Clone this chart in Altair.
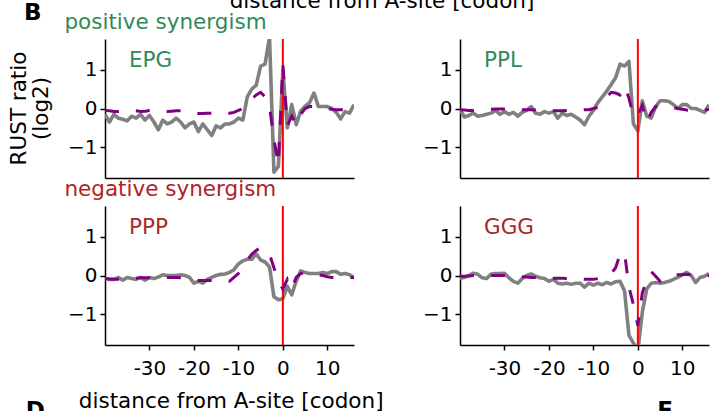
import altair as alt
import pandas as pd

# ---------------- data ----------------
positions = list(range(-40, 17))

epg_observed = [-0.15, -0.35, -0.15, -0.25, -0.28, -0.32, -0.2, -0.25, -0.15, -0.3,
                -0.18, -0.35, -0.55, -0.3, -0.4, -0.35, -0.25, -0.35, -0.5, -0.4,
                -0.35, -0.6, -0.4, -0.55, -0.7, -0.45, -0.5, -0.4, -0.4, -0.35,
                -0.25, -0.3, 0.3, 0.5, 0.6, 1.1, 1.15, 1.85, -1.65, -1.5,
                1.0, -0.5, 0.1, -0.42, -0.07, 0.06, 0.15, 0.4, 0.05, 0.05,
                0.05, 0.0, -0.1, -0.27, -0.08, -0.12, 0.1]
epg_expected = [-0.05, -0.06, -0.08, -0.08, -0.07, -0.06, -0.05, -0.06, -0.08, -0.07,
                -0.05, -0.05, -0.06, -0.08, -0.08, -0.07, -0.06, -0.06, -0.08, -0.1,
                -0.12, -0.13, -0.13, -0.12, -0.12, -0.13, -0.13, -0.12,
                -0.12, -0.1, -0.05, 0.0, 0.1, 0.25, 0.35, 0.42, 0.3, 0.05,
                -0.8, -1.45, 1.15, -0.45, -0.2, -0.42, -0.15, 0.0, 0.05, 0.05,
                0.03, 0.02, 0.0, -0.02, -0.03, -0.03, -0.03, -0.02, -0.02]

ppl_observed = [-0.03, -0.22, -0.18, -0.12, -0.2, -0.18, -0.15, -0.12, -0.05, -0.15,
                -0.08, -0.15, -0.1, -0.2, -0.1, -0.05, 0.05, -0.12, -0.15, -0.08,
                -0.12, -0.08, -0.25, -0.12, -0.18, -0.15, -0.22, -0.3, -0.42, -0.2,
                -0.05, 0.15, 0.3, 0.45, 0.62, 0.8, 1.15, 1.1, 1.22, -0.4,
                -0.58, 0.2, -0.2, -0.25, 0.05, 0.2, 0.2, 0.18, 0.1, 0.0,
                0.1, 0.1, 0.0, 0.0, -0.05, -0.1, 0.1]
ppl_expected = [-0.03, -0.04, -0.05, -0.05, -0.04, -0.03, -0.03, -0.02, -0.01, -0.01,
                -0.01, -0.01, -0.01, -0.02, -0.03, -0.03, -0.03, -0.04, -0.05, -0.05,
                -0.06, -0.06, -0.06, -0.06, -0.05, -0.05, -0.04, -0.04, -0.03,
                -0.03, 0.0, 0.03, 0.12, 0.3, 0.42, 0.4, 0.35, 0.58, 0.27,
                -0.2, -0.18, 0.08, -0.35, -0.1, 0.05, 0.08, 0.06, 0.05, 0.02,
                0.0, -0.02, -0.04, -0.05, -0.05, -0.05, -0.05, -0.02]

ppp_observed = [-0.08, -0.1, -0.1, -0.05, -0.12, -0.05, -0.08, -0.1, -0.05, -0.12,
                -0.05, -0.08, -0.04, 0.02, 0.0, 0.0, 0.0, 0.02, 0.0, -0.05,
                -0.2, -0.15, -0.2, -0.1, -0.05, 0.0, 0.03, 0.04, 0.08, 0.15,
                0.3, 0.38, 0.42, 0.42, 0.56, 0.4, 0.35, 0.22, -0.55, -0.63,
                -0.6, -0.28, -0.5, -0.15, 0.12, 0.08, 0.05, 0.05, 0.05, 0.08,
                0.05, 0.1, 0.1, 0.03, 0.05, 0.02, -0.05]
ppp_expected = [-0.08, -0.09, -0.1, -0.1, -0.09, -0.08, -0.08, -0.07, -0.06, -0.06,
                -0.06, -0.05, -0.05, -0.05, -0.05, -0.05, -0.05, -0.06, -0.08, -0.1,
                -0.12, -0.13, -0.13, -0.13, -0.13, -0.13,
                -0.13, -0.15, -0.15, -0.05, 0.05, 0.2, 0.4, 0.55, 0.65, 0.72,
                0.6, 0.55, 0.2, -0.15, -0.35, -0.1, -0.35, -0.05, 0.05, 0.08,
                0.05, 0.05, 0.02, 0.0, -0.03, -0.05, -0.06, -0.06, -0.05, -0.05, -0.05]

ggg_observed = [-0.07, -0.05, 0.0, 0.06, 0.03, -0.06, -0.08, 0.04, 0.05, 0.05,
                0.06, -0.06, -0.15, -0.2, -0.08, 0.0, 0.04, -0.02, -0.06, -0.08,
                -0.15, -0.1, -0.2, -0.22, -0.2, -0.23, -0.2, -0.2, -0.3, -0.2,
                -0.25, -0.2, -0.24, -0.18, -0.22, -0.16, -0.15, -0.4, -1.55, -1.75,
                -1.95, -0.95, -0.35, -0.2, -0.18, -0.2, -0.18, -0.15, -0.1, -0.05,
                0.02, 0.08, 0.0, -0.18, -0.05, -0.02, 0.05]
ggg_expected = [-0.02, -0.02, -0.01, 0.0, 0.0, 0.0, 0.0, 0.0, 0.0, 0.0,
                0.0, 0.0, -0.01, -0.02, -0.03, -0.04, -0.05, -0.05, -0.05, -0.06,
                -0.06, -0.07, -0.07, -0.07, -0.08, -0.08, -0.08, -0.09, -0.1, -0.1,
                -0.1, -0.08, -0.05, -0.02, 0.05, 0.2, 0.55, 0.6, -0.3, -0.75,
                -1.3, -0.45, -0.12, 0.1, -0.02, -0.15, -0.1, -0.03, 0.02, 0.02,
                0.02, 0.03, 0.02, 0.0, 0.0, 0.0, 0.0]

panel_names = ["EPG", "PPL", "PPP", "GGG"]
group_titles = ["positive synergism", "negative synergism"]
x_title = "distance from A-site [codon]"
y_title = ["RUST ratio", "(log2)"]
x_ticks = [-30, -20, -10, 0, 10]
y_ticks = [-1, 0, 1]
a_site = [0]

# ---------------- style ----------------
FONT = "DejaVu Sans"
GREEN = "#2e8b57"
RED = "#b22222"
BROWN = "#a52a2a"
W, H = 249, 139


def one_row():
    return pd.DataFrame({"k": [0]})


def text_layer(txt, x, y, size=21.5, color="black", weight="normal",
               align="left", angle=None, baseline="alphabetic"):
    kw = dict(fontSize=size, color=color, fontWeight=weight, align=align,
              baseline=baseline, font=FONT)
    if angle is not None:
        kw["angle"] = angle
    return alt.Chart(one_row()).mark_text(**kw).encode(
        x=alt.value(x), y=alt.value(y), text=alt.value(txt))


def anchor(x, y):
    return alt.Chart(one_row()).mark_rule(opacity=0, strokeWidth=0).encode(
        x=alt.value(x), x2=alt.value(x), y=alt.value(y), y2=alt.value(y))


def panel(observed, expected, label, label_color, show_x, extras):
    df = pd.DataFrame({"pos": positions, "obs": observed, "exp": expected})
    xs = alt.Scale(domain=[-40, 16], nice=False, zero=False)
    ys = alt.Scale(domain=[-1.8, 1.8], nice=False, zero=False)
    if show_x:
        xa = alt.Axis(values=x_ticks, labelExpr="datum.value + ''", title=None,
                      grid=False, labelPadding=8, tickSize=5)
    else:
        xa = alt.Axis(values=x_ticks, labels=False, ticks=False, title=None, grid=False)
    ya = alt.Axis(values=y_ticks, title=None, grid=False, tickSize=5, labelPadding=3,
                  labelExpr="datum.value < 0 ? '\u2212' + abs(datum.value) : '' + datum.value")
    base = alt.Chart(df)
    obs_line = base.mark_line(color="#808080", strokeWidth=3.6, clip=True,
                              strokeJoin="round").encode(
        x=alt.X("pos:Q", scale=xs, axis=xa),
        y=alt.Y("obs:Q", scale=ys, axis=ya))
    exp_line = base.mark_line(color="#800080", strokeWidth=3, strokeDash=[14, 17],
                              clip=True).encode(
        x=alt.X("pos:Q", scale=xs, axis=xa),
        y=alt.Y("exp:Q", scale=ys, axis=ya))
    rule = alt.Chart(pd.DataFrame({"pos": a_site})).mark_rule(
        color="red", strokeWidth=2).encode(x=alt.X("pos:Q", scale=xs, axis=xa))
    lab = text_layer(label, 24, 28.3, color=label_color)
    return alt.layer(obs_line, rule, exp_line, lab, *extras).properties(width=W, height=H)


tl = panel(epg_observed, epg_expected, panel_names[0], GREEN, False, [
    anchor(-105, -59),
    text_layer("B", -81, -19, size=23, weight="bold"),
    text_layer(x_title, 277, -31, align="center"),
    text_layer(group_titles[0], -40.6, -9.7, color=GREEN),
    text_layer(y_title[0], -79, 69.5, angle=270, align="center"),
    text_layer(y_title[1], -57.5, 69.5, angle=270, align="center"),
])
tr = panel(ppl_observed, ppl_expected, panel_names[1], GREEN, False, [])
bl = panel(ppp_observed, ppp_expected, panel_names[2], BROWN, True, [
    text_layer(group_titles[1], -40.6, -10, color=RED),
    text_layer(x_title, 126.2, 201.6, align="center"),
    text_layer("D", -79.3, 212, size=23, weight="bold"),
])
br = panel(ggg_observed, ggg_expected, panel_names[3], BROWN, True, [
    text_layer("E", 197.3, 212, size=23, weight="bold"),
    anchor(270, 234),
])

chart = alt.concat(tl, tr, bl, br, columns=2,
                   spacing={"row": 28, "column": 106}, bounds="flush").properties(
    padding={"left": 0, "top": -20, "right": -19, "bottom": -29},
    autosize=alt.AutoSizeParams(type="pad"),
    background="white",
).configure_view(stroke=None).configure_axis(
    domainColor="black", domainWidth=1.5, tickColor="black", tickWidth=1.5,
    labelColor="black", labelFont=FONT, labelFontSize=20, grid=False,
).configure_text(font=FONT)

chart.save("out.html", embed_options={"renderer": "svg", "actions": False})
